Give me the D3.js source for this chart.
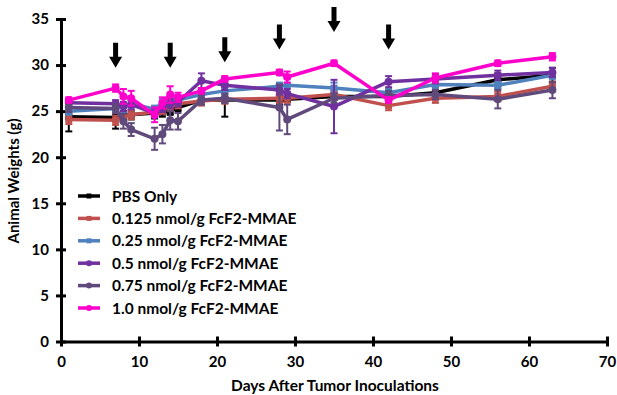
<!DOCTYPE html>
<html>
<head>
<meta charset="utf-8">
<script src="https://cdn.jsdelivr.net/npm/d3@7"></script>
<style>
  body { margin: 0; background: #fff; }
  text { font-family: Lato, "Open Sans", sans-serif; font-weight: bold; }
</style>
</head>
<body>
<div id="chart"></div>
<script>
// days of measurement
var days = [1, 7, 8, 9, 12, 13, 14, 15, 18, 21, 28, 29, 35, 42, 48, 56, 63]

var seriesNames = ["PBS Only", "0.125 nmol/g FcF2-MMAE", "0.25 nmol/g FcF2-MMAE",
  "0.5 nmol/g FcF2-MMAE", "0.75 nmol/g FcF2-MMAE", "1.0 nmol/g FcF2-MMAE"]

var pbs     = [24.4, 24.3, 24.5, 24.6, 24.8, 24.9, 25.0, 25.4, 26.2, 26.2, 26.2, 26.3, 26.6, 26.6, 27.0, 28.4, 28.9]
var pbsErr  = [1.6, 1.2, 0.5, 0.5, 0.6, 0.5, 0.4, 0.4, 0.5, 1.8, 0.5, 0.3, 0.4, 0.3, 0.6, 0.7, 0.8]
var d0125   = [24.1, 24.0, 24.4, 24.6, 24.9, 25.2, 25.5, 25.8, 26.1, 26.3, 26.4, 26.4, 26.8, 25.6, 26.4, 26.6, 27.7]
var d0125Err = [0.5, 0.5, 0.5, 0.5, 0.5, 0.5, 0.5, 0.5, 0.5, 0.5, 0.5, 0.5, 0.5, 0.5, 0.5, 0.5, 0.5]
var d025    = [25.0, 25.3, 25.6, 25.8, 25.2, 25.9, 26.2, 26.2, 26.8, 27.2, 27.7, 27.8, 27.5, 27.0, 27.9, 27.8, 28.9]
var d025Err = [0.4, 0.4, 0.8, 0.4, 0.4, 0.4, 0.4, 0.4, 0.4, 0.4, 0.4, 0.7, 0.6, 0.4, 0.4, 0.4, 0.4]
var d05     = [25.9, 25.8, 25.5, 25.7, 24.8, 25.4, 25.8, 26.0, 28.3, 27.8, 27.3, 26.9, 25.5, 28.2, 28.5, 28.9, 29.2]
var d05Err  = [0.4, 0.4, 0.5, 0.5, 0.5, 0.5, 0.5, 0.5, 0.8, 0.5, 0.5, 0.5, 2.9, 0.6, 0.5, 0.5, 0.5]
var d075    = [25.4, 25.3, 23.9, 23.0, 22.0, 22.5, 24.0, 23.9, 26.2, 26.4, 25.4, 24.1, 26.4, 26.7, 26.8, 26.3, 27.3]
var d075Err = [0.5, 0.5, 0.8, 0.7, 1.2, 1.0, 1.0, 0.9, 0.5, 0.5, 2.5, 1.6, 0.5, 0.5, 0.5, 1.0, 0.9]
var d1      = [26.2, 27.5, 26.6, 26.4, 24.6, 25.9, 26.8, 26.5, 27.2, 28.5, 29.2, 28.7, 30.2, 26.2, 28.6, 30.2, 30.9]
var d1Err   = [0.3, 0.4, 0.8, 0.8, 0.8, 0.6, 0.9, 0.5, 0.3, 0.3, 0.3, 0.6, 0.3, 0.3, 0.5, 0.3, 0.4]

// dosing arrows: day and tip height (g)
var arrowDays = [7, 14, 21, 28, 35, 42]
var arrowTips = [29.7, 29.7, 30.3, 31.7, 33.6, 31.7]

var xTicks = [0, 10, 20, 30, 40, 50, 60, 70]
var yTicks = [0, 5, 10, 15, 20, 25, 30, 35]

var colors = ["#000000", "#C0504D", "#4F81BD", "#7030A0", "#604A7B", "#FF00CC"]
var shapes = ["square", "square", "square", "circle", "circle", "circle"]

var allValues = [pbs, d0125, d025, d05, d075, d1]
var allErrors = [pbsErr, d0125Err, d025Err, d05Err, d075Err, d1Err]

var series = seriesNames.map(function (name, i) {
  return {
    name: name, color: colors[i], shape: shapes[i],
    points: days.map(function (d, j) { return { day: d, v: allValues[i][j], e: allErrors[i][j] } })
  }
})

var W = 617, H = 395
var svg = d3.select("#chart").append("svg").attr("width", W).attr("height", H)
svg.append("rect").attr("width", W).attr("height", H).attr("fill", "#fff")

var x = d3.scaleLinear().domain([0, 70]).range([61, 607])
var y = d3.scaleLinear().domain([0, 35]).range([341.5, 19])

// axes
var xAxis = svg.append("g").attr("transform", "translate(0," + y(0) + ")")
  .call(d3.axisBottom(x).tickValues(xTicks).tickSize(0).tickPadding(15))
var yAxis = svg.append("g").attr("transform", "translate(" + x(0) + ",0)")
  .call(d3.axisLeft(y).tickValues(yTicks).tickSize(0).tickPadding(12))

;[xAxis, yAxis].forEach(function (a) {
  a.select(".domain").attr("stroke", "#000").attr("stroke-width", 3)
  a.selectAll("text").attr("font-size", 15).attr("fill", "#000")
    .style("font-family", "Lato, sans-serif").style("font-weight", "bold")
})
// crossing tick marks
xAxis.selectAll(".tick").append("line").attr("y1", -5).attr("y2", 5)
  .attr("stroke", "#000").attr("stroke-width", 3)
yAxis.selectAll(".tick").append("line").attr("x1", -5).attr("x2", 5)
  .attr("stroke", "#000").attr("stroke-width", 3)

svg.append("text").attr("x", 335).attr("y", 391).attr("text-anchor", "middle")
  .attr("font-size", 15.5).text("Days After Tumor Inoculations")
svg.append("text").attr("transform", "translate(19,181) rotate(-90)").attr("text-anchor", "middle")
  .attr("font-size", 15).text("Animal Weights (g)")

// arrows
arrowDays.forEach(function (d, i) {
  var ax = x(d), tip = y(arrowTips[i]), top = tip - 25
  svg.append("path")
    .attr("d", "M" + (ax - 2.5) + "," + top + "H" + (ax + 2.5) + "V" + (tip - 11) +
      "H" + (ax + 6.5) + "L" + ax + "," + tip + "L" + (ax - 6.5) + "," + (tip - 11) +
      "H" + (ax - 2.5) + "Z")
    .attr("fill", "#000")
})

var line = d3.line().x(function (p) { return x(p.day) }).y(function (p) { return y(p.v) })

function drawMarker(g, shape, color, size) {
  if (shape == "square") {
    g.append("rect").attr("x", -size / 2).attr("y", -size / 2).attr("width", size).attr("height", size).attr("fill", color)
  } else {
    g.append("circle").attr("r", size / 2 + 0.5).attr("fill", color)
  }
}

series.forEach(function (s) {
  var g = svg.append("g")
  // error bars
  s.points.forEach(function (p) {
    var cx = x(p.day), y1 = y(p.v - p.e), y2 = y(p.v + p.e)
    g.append("line").attr("x1", cx).attr("x2", cx).attr("y1", y1).attr("y2", y2)
      .attr("stroke", s.color).attr("stroke-width", 2)
    ;[y1, y2].forEach(function (yy) {
      g.append("line").attr("x1", cx - 3.5).attr("x2", cx + 3.5).attr("y1", yy).attr("y2", yy)
        .attr("stroke", s.color).attr("stroke-width", 2)
    })
  })
  g.append("path").datum(s.points).attr("d", line).attr("fill", "none")
    .attr("stroke", s.color).attr("stroke-width", 3.5).attr("stroke-linejoin", "round")
  s.points.forEach(function (p) {
    var m = g.append("g").attr("transform", "translate(" + x(p.day) + "," + y(p.v) + ")")
    drawMarker(m, s.shape, s.color, 7)
  })
})

// legend
var legend = svg.append("g")
series.forEach(function (s, i) {
  var ly = 196 + i * 22.4
  legend.append("line").attr("x1", 78).attr("x2", 100).attr("y1", ly).attr("y2", ly)
    .attr("stroke", s.color).attr("stroke-width", 3.5)
  var m = legend.append("g").attr("transform", "translate(89," + ly + ")")
  drawMarker(m, s.shape, s.color, 5)
  legend.append("text").attr("x", 112).attr("y", ly + 5.5).attr("font-size", 15.5).text(s.name)
})
</script>
</body>
</html>
